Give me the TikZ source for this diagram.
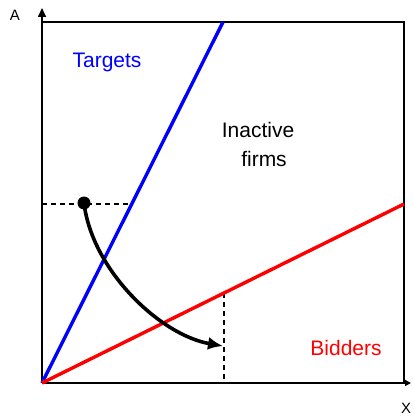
\documentclass[tikz,border=0pt]{standalone}
\usepackage{fontspec}
\setmainfont{Liberation Sans}
\usetikzlibrary{arrows.meta}
\definecolor{tblue}{RGB}{0,0,255}
\definecolor{tred}{RGB}{255,0,0}
\tikzset{
  axis/.style={line width=1.6pt},
  frame/.style={line width=1.4pt},
  regline/.style={line width=3.4pt},
  guide/.style={line width=1.2pt, dash pattern=on 5pt off 4pt},
  lbl/.style={font=\fontsize{21}{25}\selectfont, inner sep=0pt, anchor=base},
  axlbl/.style={font=\fontsize{15}{18}\selectfont, inner sep=0pt},
  move/.style={line width=3.6pt, -{Latex[length=15pt,width=13pt]}}
}
\begin{document}
\begin{tikzpicture}[x=1pt,y=-1pt]
\useasboundingbox (0,0) rectangle (413,419);
\coordinate (O) at (42,383);
\coordinate (Ytop) at (42,8);
\coordinate (Xend) at (411,383);
\coordinate (TL) at (42,22);
\coordinate (TR) at (404,22);
\coordinate (BR) at (404,383);
\coordinate (Bend) at (223,22);
\coordinate (Rend) at (404,204);
\coordinate (Hl) at (42,204);
\coordinate (Hr) at (132,204);
\coordinate (Vt) at (224,293);
\coordinate (Vb) at (224,383);
\coordinate (S) at (84,203);
\coordinate (E) at (223,346);
% frame
\draw[frame] (TL) -- (TR) -- (BR);
% axes
\draw[axis,-{Triangle[length=9pt,width=8pt]}] (O) -- (Ytop);
\draw[axis,-{Triangle[length=6pt,width=6pt]}] (O) -- (Xend);
% guides
\draw[guide] (Hl) -- (Hr);
\draw[guide] (Vt) -- (Vb);
% lines
\draw[regline, tblue] (O) -- (Bend);
\draw[regline, tred] (O) -- (Rend);
% move
\draw[move] (S) .. controls (92,270) and (160,335) .. (E);
\fill (S) circle (6.5);
% labels
\node[lbl, tblue] (targets) at (107,68) {Targets};
\node[lbl] (inactive) at (258,138) {Inactive};
\node[lbl] (firms) at (264,167) {firms};
\node[lbl, tred] (bidders) at (346,355) {Bidders};
\node[axlbl] (alab) at (15,15) {A};
\node[axlbl] (xlab) at (406,408) {X};
\end{tikzpicture}
\end{document}
